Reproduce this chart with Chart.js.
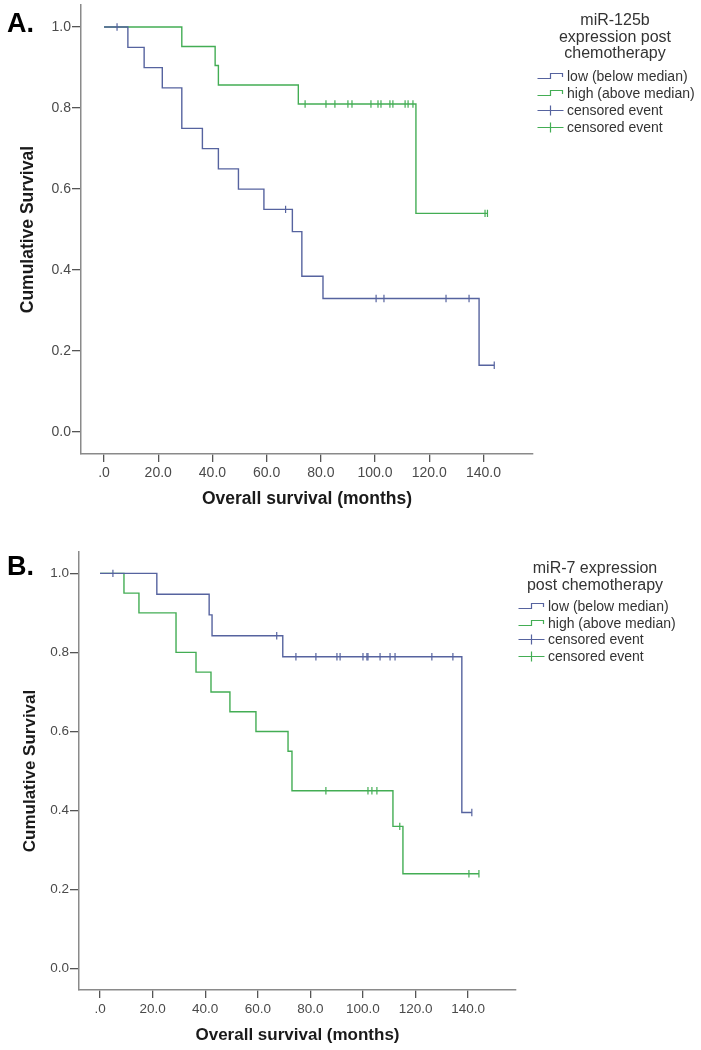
<!DOCTYPE html>
<html>
<head>
<meta charset="utf-8">
<script src="https://cdn.jsdelivr.net/npm/chart.js@4/dist/chart.umd.min.js"></script>
<style>
  body { margin: 0; background: #fff; font-family: "Liberation Sans", Arial, sans-serif; }
  #page { position: relative; width: 701px; height: 1050px; overflow: hidden; }
  canvas { position: absolute; left: 0; }
  .panel { position: absolute; left: 7px; font-weight: bold; font-size: 27px; color: #000; }
  .legTitle { position: absolute; width: 170px; text-align: center; font-size: 16px; line-height: 16.5px; color: #333; }
  .legRow { position: absolute; height: 17px; font-size: 14px; line-height: 17px; color: #333; white-space: nowrap; }
  .legRow svg { position: absolute; left: 0; top: 0; }
  .legRow span { position: absolute; left: 30px; top: 0; }
</style>
</head>
<body>
<div id="page">
  <canvas id="chartA" width="701" height="520" style="top:0"></canvas>
  <canvas id="chartB" width="701" height="530" style="top:520px"></canvas>

  <div class="panel" style="top:8px">A.</div>
  <div class="panel" style="top:551px">B.</div>

  <div class="legTitle" style="left:530px; top:12px">miR-125b<br>expression post<br>chemotherapy</div>
  <div id="legA"></div>

  <div class="legTitle" style="left:510px; top:560px">miR-7 expression<br>post chemotherapy</div>
  <div id="legB"></div>
</div>

<script>
// axis ticks
const xTicks = [0, 20, 40, 60, 80, 100, 120, 140];
const xTickLabels = ['.0', '20.0', '40.0', '60.0', '80.0', '100.0', '120.0', '140.0'];
const yTicks = [0, 0.2, 0.4, 0.6, 0.8, 1.0];
const yTickLabels = ['0.0', '0.2', '0.4', '0.6', '0.8', '1.0'];

const groupLabels = ['low (below median)', 'high (above median)'];
const censorLabel = 'censored event';

// panel A - miR-125b
const lowA_times = [8.8, 14.8, 21.5, 28.7, 28.7, 36.3, 42.2, 49.6, 59.0, 69.5, 73.0, 73.0, 80.8, 138.4];
const lowA_surv  = [0.95, 0.90, 0.85, 0.80, 0.75, 0.70, 0.65, 0.60, 0.55, 0.495, 0.44, 0.385, 0.33, 0.165];
const lowA_cens  = [4.8, 67.0, 100.4, 103.3, 126.2, 134.7, 144.0];
const highA_times = [28.7, 41.0, 42.2, 71.7, 115.1];
const highA_surv  = [0.952, 0.905, 0.857, 0.81, 0.54];
const highA_cens  = [74.2, 81.9, 85.2, 90.0, 91.5, 98.5, 101.1, 102.2, 105.5, 106.6, 111.1, 112.2, 114.0, 140.6, 141.5];

// panel B - miR-7
const lowB_times = [21.6, 41.5, 42.6, 69.5, 137.6];
const lowB_surv  = [0.947, 0.895, 0.842, 0.789, 0.395];
const lowB_cens  = [4.9, 67.2, 74.5, 82.1, 90.1, 91.3, 100.0, 101.5, 101.9, 106.5, 110.3, 112.2, 126.2, 134.2, 141.4];
const highB_times = [9.1, 14.8, 28.9, 28.9, 36.5, 42.2, 49.4, 59.3, 71.5, 73.0, 73.0, 111.4, 115.2];
const highB_surv  = [0.95, 0.90, 0.85, 0.80, 0.75, 0.70, 0.65, 0.60, 0.55, 0.50, 0.45, 0.36, 0.24];
const highB_cens  = [85.9, 101.9, 103.4, 105.3, 114.0, 140.3, 144.1];

const BLUE = '#56639f';
const GREEN = '#43ad54';
const FONT = '"Liberation Sans", Arial, sans-serif';

function levelAt(times, surv, t) {
    let y = 1;
    times.forEach((tt, i) => { if (tt <= t) y = surv[i]; });
    return y;
}

function kmDatasets(times, surv, cens, color, label) {
    const pts = [{ x: 0, y: 1 }];
    times.forEach((t, i) => pts.push({ x: t, y: surv[i] }));
    const end = Math.max(times[times.length - 1], cens[cens.length - 1]);
    pts.push({ x: end, y: levelAt(times, surv, end) });
    return [{
        label: label,
        data: pts,
        showLine: true,
        stepped: true,
        borderColor: color,
        borderWidth: 1.4,
        pointRadius: 0,
        fill: false
    }, {
        label: censorLabel,
        data: cens.map(t => ({ x: t, y: levelAt(times, surv, t) })),
        showLine: false,
        pointStyle: 'line',
        rotation: 90,
        pointRadius: 3.7,
        borderWidth: 1.2,
        borderColor: color,
        backgroundColor: color
    }];
}

function makePanel(id, p) {
    const ctx = document.getElementById(id).getContext('2d');
    return new Chart(ctx, {
        type: 'scatter',
        data: {
            datasets: [
                ...kmDatasets(p.low[0], p.low[1], p.low[2], BLUE, groupLabels[0]),
                ...kmDatasets(p.high[0], p.high[1], p.high[2], GREEN, groupLabels[1])
            ]
        },
        options: {
            responsive: false,
            animation: false,
            layout: { padding: { top: p.top, right: p.right, left: 0, bottom: 0 } },
            plugins: { legend: { display: false }, tooltip: { enabled: false } },
            scales: {
                x: {
                    type: 'linear',
                    min: p.xmin, max: p.xmax,
                    afterBuildTicks: s => { s.ticks = xTicks.map(v => ({ value: v })); },
                    afterFit: s => { s.height = p.xh; s.paddingLeft = 0; s.paddingRight = 0; },
                    ticks: {
                        callback: (v, i) => xTickLabels[i],
                        autoSkip: false, maxRotation: 0,
                        font: { family: FONT, size: p.tickSize }, color: '#4a4a4a', padding: 3
                    },
                    grid: { drawOnChartArea: false, drawTicks: true, tickLength: 8, color: '#555', lineWidth: 1.3 },
                    border: { display: true, color: '#8a8a8a', width: 1.5 },
                    title: {
                        display: true, text: 'Overall survival (months)',
                        font: { family: FONT, size: p.titleSize, weight: 'bold' }, color: '#1a1a1a',
                        padding: { top: 0, bottom: p.xTitlePad }
                    }
                },
                y: {
                    type: 'linear',
                    min: -0.054, max: 1.054,
                    afterBuildTicks: s => { s.ticks = yTicks.map(v => ({ value: v })); },
                    afterFit: s => { s.width = p.yw; s.paddingTop = 0; s.paddingBottom = 0; },
                    ticks: {
                        callback: (v, i) => yTickLabels[i],
                        font: { family: FONT, size: p.tickSize }, color: '#4a4a4a', padding: 1
                    },
                    grid: { drawOnChartArea: false, drawTicks: true, tickLength: 9, color: '#555', lineWidth: 1.3 },
                    border: { display: true, color: '#8a8a8a', width: 1.5 },
                    title: {
                        display: true, text: 'Cumulative Survival',
                        font: { family: FONT, size: p.titleSize, weight: 'bold' }, color: '#1a1a1a',
                        padding: { top: p.yTitlePad, bottom: 0 }
                    }
                }
            }
        }
    });
}

makePanel('chartA', {
    low: [lowA_times, lowA_surv, lowA_cens],
    high: [highA_times, highA_surv, highA_cens],
    top: 3, right: 168, yw: 81, xh: 66,
    xmin: -8.5, xmax: 158.3,
    tickSize: 14, titleSize: 17.5, xTitlePad: 10.5, yTitlePad: 17.5
});

makePanel('chartB', {
    low: [lowB_times, lowB_surv, lowB_cens],
    high: [highB_times, highB_surv, highB_cens],
    top: 32, right: 185, yw: 79, xh: 60,
    xmin: -8.0, xmax: 158.2,
    tickSize: 13.5, titleSize: 17, xTitlePad: 4.8, yTitlePad: 19.8
});

// legends: step glyph for groups, cross for censored
function stepSvg(color) {
    return '<svg width="27" height="17"><path d="M0.5 10.5 H13.5 V5.5 H25.5 V9" fill="none" stroke="' + color + '" stroke-width="1.2"/></svg>';
}
function crossSvg(color) {
    return '<svg width="27" height="17"><path d="M0.5 8.5 H26.5 M13.5 3.5 V13.5" fill="none" stroke="' + color + '" stroke-width="1.2"/></svg>';
}

function buildLegend(id, left, top, step) {
    const rows = [
        [stepSvg(BLUE), groupLabels[0]],
        [stepSvg(GREEN), groupLabels[1]],
        [crossSvg(BLUE), censorLabel],
        [crossSvg(GREEN), censorLabel]
    ];
    const host = document.getElementById(id);
    rows.forEach((r, i) => {
        const d = document.createElement('div');
        d.className = 'legRow';
        d.style.left = left + 'px';
        d.style.top = Math.round(top + i * step) + 'px';
        d.innerHTML = r[0] + '<span>' + r[1] + '</span>';
        host.appendChild(d);
    });
}

buildLegend('legA', 537, 68, 17);
buildLegend('legB', 518, 598, 16.7);
</script>
</body>
</html>
